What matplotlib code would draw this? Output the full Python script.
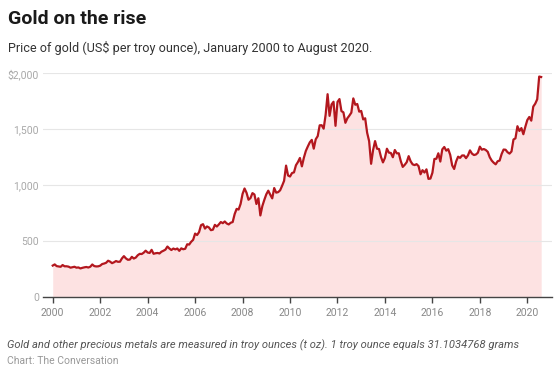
import numpy as np
import matplotlib
matplotlib.use("Agg")
import matplotlib.pyplot as plt
from matplotlib.ticker import FuncFormatter

# month-end gold price, US$ per troy ounce, Jan 2000 .. Aug 2020
start_year = 2000
prices = [
    283.3, 293.7, 278.4, 275.2, 272.3, 288.2, 276.8, 277.0, 273.7, 264.5, 269.1, 272.7,
    264.5, 266.7, 257.7, 263.2, 267.5, 270.6, 265.9, 273.0, 293.1, 278.8, 275.5, 276.5,
    282.3, 296.9, 301.4, 308.2, 326.6, 318.5, 304.7, 312.8, 323.7, 316.9, 317.7, 347.2,
    367.5, 347.5, 334.9, 336.8, 361.4, 346.0, 354.8, 375.6, 388.0, 386.3, 398.4, 416.3,
    399.8, 395.9, 423.7, 388.5, 393.3, 395.8, 391.4, 407.3, 415.7, 425.6, 453.4, 435.6,
    422.2, 435.5, 427.5, 435.7, 414.5, 437.1, 429.0, 433.3, 473.3, 470.8, 495.7, 513.0,
    568.8, 556.0, 582.0, 644.0, 653.0, 613.5, 632.5, 623.5, 599.3, 603.8, 646.7, 632.0,
    650.5, 672.0, 661.8, 677.0, 659.1, 650.5, 665.5, 672.0, 743.0, 789.5, 783.5, 833.8,
    923.3, 971.5, 933.5, 871.0, 885.8, 930.3, 918.0, 833.0, 884.5, 730.8, 814.5, 869.8,
    919.5, 952.0, 916.5, 883.3, 975.5, 934.5, 939.0, 955.5, 995.8, 1040.0, 1175.8, 1087.5,
    1078.5, 1109.5, 1115.5, 1179.3, 1207.5, 1244.0, 1169.0, 1246.0, 1307.0, 1346.8, 1383.5, 1405.5,
    1327.0, 1411.0, 1439.0, 1535.5, 1536.5, 1505.5, 1628.5, 1813.5, 1620.0, 1722.0, 1746.0, 1531.0,
    1744.0, 1770.0, 1662.5, 1651.3, 1558.0, 1598.5, 1622.0, 1648.5, 1776.0, 1719.0, 1726.0, 1657.5,
    1664.0, 1588.5, 1598.3, 1469.0, 1394.5, 1192.0, 1314.5, 1394.8, 1326.5, 1324.0, 1253.0, 1204.5,
    1244.8, 1326.5, 1291.8, 1288.5, 1250.5, 1315.0, 1285.3, 1285.8, 1216.5, 1164.3, 1182.8, 1206.0,
    1260.3, 1214.0, 1187.0, 1180.3, 1189.0, 1171.0, 1098.4, 1135.0, 1114.0, 1142.4, 1057.3, 1060.0,
    1111.8, 1234.9, 1237.0, 1285.7, 1212.1, 1320.8, 1342.0, 1309.3, 1322.5, 1272.0, 1178.1, 1145.9,
    1212.8, 1255.6, 1244.9, 1266.5, 1266.2, 1242.3, 1267.6, 1311.8, 1283.1, 1270.2, 1274.8, 1291.0,
    1345.1, 1317.9, 1323.9, 1315.1, 1298.3, 1250.5, 1220.6, 1201.5, 1187.3, 1214.9, 1220.7, 1279.0,
    1319.2, 1317.6, 1295.4, 1282.9, 1301.9, 1409.0, 1419.0, 1527.6, 1485.3, 1510.9, 1456.0, 1523.0,
    1582.9, 1609.9, 1577.2, 1702.8, 1728.7, 1768.1, 1971.0, 1967.0,
]
year_ticks = list(range(2000, 2021, 2))
y_ticks = [0, 500, 1000, 1500, 2000]

title = "Gold on the rise"
subtitle = "Price of gold (US$ per troy ounce), January 2000 to August 2020."
note = ("Gold and other precious metals are measured in troy ounces (t oz). "
        "1 troy ounce equals 31.1034768 grams")
source = "Chart: The Conversation"

plt.rcParams['font.family'] = ['Roboto', 'DejaVu Sans']

t = start_year + np.arange(len(prices)) / 12.0

fig = plt.figure(figsize=(5.59, 3.75), dpi=100)
ax = fig.add_axes([43 / 559, 1 - 297.3 / 375, (552 - 43) / 559, 224 / 375])

ax.fill_between(t, prices, 0, color='#fde2e2', linewidth=0, zorder=1)
ax.plot(t, prices, color='#b3171e', linewidth=1.6, solid_joinstyle='round', zorder=3)

ax.set_xlim(1999.59, 2021.04)
ax.set_ylim(0, 2000)

ax.set_yticks(y_ticks)
ax.yaxis.set_major_formatter(FuncFormatter(
    lambda v, p: ("$" if v == 2000 else "") + "{:,.0f}".format(v)))
ax.grid(axis='y', color='#e6e6e6', linewidth=0.8, zorder=0)
ax.tick_params(axis='y', length=0, pad=3, labelsize=7.5, labelcolor='#a8a8a8')

ax.set_xticks(year_ticks)
ax.tick_params(axis='x', direction='out', length=4, width=1, color='#444444',
               pad=4, labelsize=7.5, labelcolor='#888888')

for side in ['top', 'right', 'left']:
    ax.spines[side].set_visible(False)
ax.spines['bottom'].set_color('#444444')
ax.spines['bottom'].set_linewidth(1)
ax.spines['bottom'].set_zorder(4)

fig.text(8 / 559, 1 - 19 / 375, title, fontsize=14, fontweight='bold',
         color='#1a1a1a', va='center', ha='left')
fig.text(8 / 559, 1 - 48 / 375, subtitle, fontsize=9.1, color='#333333',
         va='center', ha='left')
fig.text(7 / 559, 1 - 345.5 / 375, note, fontsize=8, style='italic',
         color='#555555', va='center', ha='left')
fig.text(7 / 559, 1 - 361 / 375, source, fontsize=7.5, color='#999999',
         va='center', ha='left')

fig.savefig("out.png", dpi=100)
